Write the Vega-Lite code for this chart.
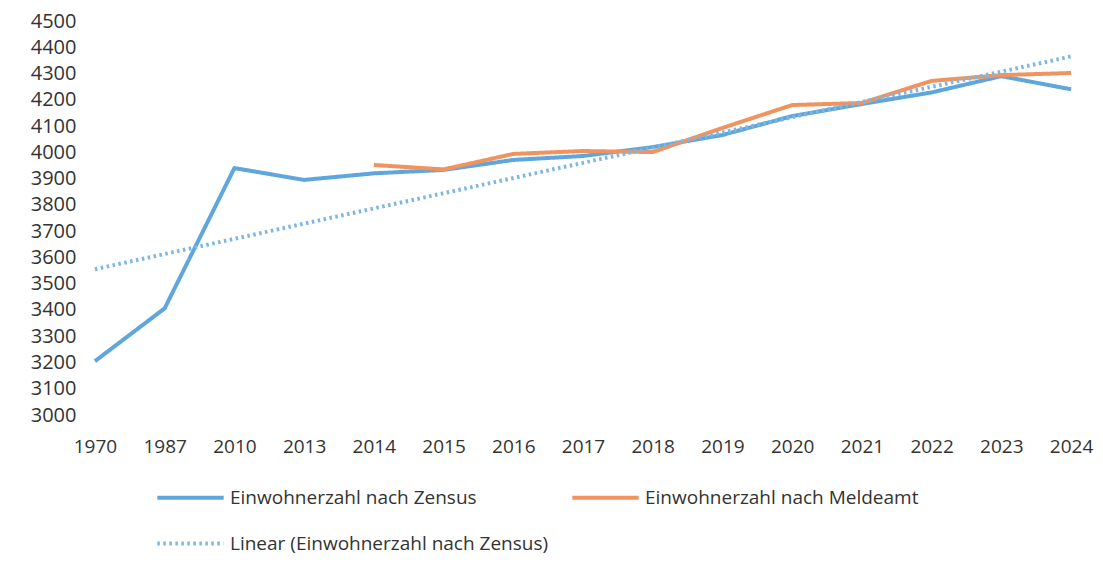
{
  "$schema": "https://vega.github.io/schema/vega-lite/v6.json",
  "autosize": "none",
  "width": 1004,
  "height": 394,
  "padding": {"left": 81, "top": 21, "right": 18, "bottom": 156},
  "background": "white",
  "config": {
    "view": {"stroke": null},
    "font": "Open Sans",
    "axis": {"labelFont": "Open Sans", "labelColor": "#333333", "labelFontSize": 19, "domain": false, "ticks": false, "grid": false, "title": null},
    "legend": {"labelFont": "Open Sans", "labelColor": "#333333", "labelFontSize": 19, "labelLimit": 0}
  },
  "data": {
    "values": [
      {"jahr": "1970", "wert": 3205, "reihe": "Einwohnerzahl nach Zensus"},
      {"jahr": "1987", "wert": 3406, "reihe": "Einwohnerzahl nach Zensus"},
      {"jahr": "2010", "wert": 3940, "reihe": "Einwohnerzahl nach Zensus"},
      {"jahr": "2013", "wert": 3895, "reihe": "Einwohnerzahl nach Zensus"},
      {"jahr": "2014", "wert": 3920, "reihe": "Einwohnerzahl nach Zensus"},
      {"jahr": "2015", "wert": 3933, "reihe": "Einwohnerzahl nach Zensus"},
      {"jahr": "2016", "wert": 3971, "reihe": "Einwohnerzahl nach Zensus"},
      {"jahr": "2017", "wert": 3986, "reihe": "Einwohnerzahl nach Zensus"},
      {"jahr": "2018", "wert": 4020, "reihe": "Einwohnerzahl nach Zensus"},
      {"jahr": "2019", "wert": 4066, "reihe": "Einwohnerzahl nach Zensus"},
      {"jahr": "2020", "wert": 4138, "reihe": "Einwohnerzahl nach Zensus"},
      {"jahr": "2021", "wert": 4184, "reihe": "Einwohnerzahl nach Zensus"},
      {"jahr": "2022", "wert": 4228, "reihe": "Einwohnerzahl nach Zensus"},
      {"jahr": "2023", "wert": 4290, "reihe": "Einwohnerzahl nach Zensus"},
      {"jahr": "2024", "wert": 4240, "reihe": "Einwohnerzahl nach Zensus"},
      {"jahr": "2014", "wert": 3952, "reihe": "Einwohnerzahl nach Meldeamt"},
      {"jahr": "2015", "wert": 3935, "reihe": "Einwohnerzahl nach Meldeamt"},
      {"jahr": "2016", "wert": 3994, "reihe": "Einwohnerzahl nach Meldeamt"},
      {"jahr": "2017", "wert": 4005, "reihe": "Einwohnerzahl nach Meldeamt"},
      {"jahr": "2018", "wert": 4001, "reihe": "Einwohnerzahl nach Meldeamt"},
      {"jahr": "2019", "wert": 4093, "reihe": "Einwohnerzahl nach Meldeamt"},
      {"jahr": "2020", "wert": 4180, "reihe": "Einwohnerzahl nach Meldeamt"},
      {"jahr": "2021", "wert": 4188, "reihe": "Einwohnerzahl nach Meldeamt"},
      {"jahr": "2022", "wert": 4272, "reihe": "Einwohnerzahl nach Meldeamt"},
      {"jahr": "2023", "wert": 4294, "reihe": "Einwohnerzahl nach Meldeamt"},
      {"jahr": "2024", "wert": 4302, "reihe": "Einwohnerzahl nach Meldeamt"},
      {"jahr": "1970", "wert": 3555, "reihe": "Linear (Einwohnerzahl nach Zensus)"},
      {"jahr": "2024", "wert": 4365, "reihe": "Linear (Einwohnerzahl nach Zensus)"}
    ]
  },
  "mark": {"type": "line", "strokeCap": "butt", "strokeJoin": "round"},
  "encoding": {
    "x": {
      "field": "jahr", "type": "ordinal",
      "scale": {"type": "point", "padding": 0.2},
      "axis": {"labelAngle": 0, "labelPadding": 22}
    },
    "y": {
      "field": "wert", "type": "quantitative",
      "scale": {"domain": [3000, 4500], "nice": false, "zero": false},
      "axis": {"values": [3000, 3100, 3200, 3300, 3400, 3500, 3600, 3700, 3800, 3900, 4000, 4100, 4200, 4300, 4400, 4500], "format": "d", "labelPadding": 5, "labelFontSize": 20}
    },
    "color": {
      "field": "reihe", "type": "nominal",
      "scale": {
        "domain": ["Einwohnerzahl nach Zensus", "Einwohnerzahl nach Meldeamt", "Linear (Einwohnerzahl nach Zensus)"],
        "range": ["#5ea6dc", "#f0935e", "#7db6e2"]
      },
      "legend": {
        "title": null, "orient": "none", "legendX": 74, "legendY": 441,
        "columns": 2, "direction": "horizontal",
        "symbolType": "stroke", "symbolSize": 4400, "symbolStrokeWidth": 4,
        "labelOffset": 4, "rowPadding": -1, "columnPadding": 15
      }
    },
    "strokeDash": {
      "field": "reihe", "type": "nominal",
      "scale": {
        "domain": ["Einwohnerzahl nach Zensus", "Einwohnerzahl nach Meldeamt", "Linear (Einwohnerzahl nach Zensus)"],
        "range": [[1, 0], [1, 0], [2.5, 3.5]]
      },
      "legend": null
    },
    "strokeWidth": {
      "field": "reihe", "type": "nominal",
      "scale": {
        "domain": ["Einwohnerzahl nach Zensus", "Einwohnerzahl nach Meldeamt", "Linear (Einwohnerzahl nach Zensus)"],
        "range": [4, 4, 2.5]
      },
      "legend": null
    }
  }
}
